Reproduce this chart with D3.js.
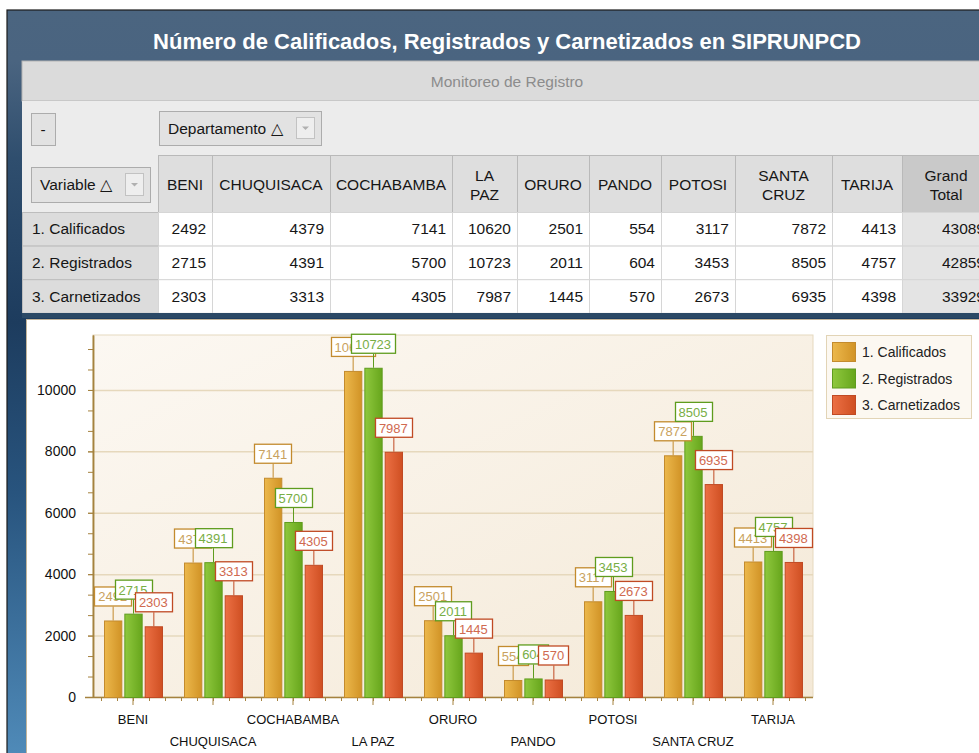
<!DOCTYPE html>
<meta charset="utf-8">
<style>
body{margin:0;background:#fff;}
text{font-family:"Liberation Sans",Arial,sans-serif;}
</style>
<svg id="mysvg" width="979" height="753"></svg>
<script src="https://cdn.jsdelivr.net/npm/d3@7/dist/d3.min.js"></script>
<script>

// data
var departamentos = ["BENI","CHUQUISACA","COCHABAMBA","LA PAZ","ORURO","PANDO","POTOSI","SANTA CRUZ","TARIJA"];
var variables = ["1. Calificados","2. Registrados","3. Carnetizados"];
var calificados  = [2492,4379,7141,10620,2501,554,3117,7872,4413];
var registrados  = [2715,4391,5700,10723,2011,604,3453,8505,4757];
var carnetizados = [2303,3313,4305,7987,1445,570,2673,6935,4398];
var yTicks = [0,2000,4000,6000,8000,10000];
var headerLabels = [["BENI"],["CHUQUISACA"],["COCHABAMBA"],["LA","PAZ"],["ORURO"],["PANDO"],["POTOSI"],["SANTA","CRUZ"],["TARIJA"],["Grand","Total"]];

var values = [calificados, registrados, carnetizados];
var grandTotals = values.map(function(v){ return d3.sum(v); });

// colours per series: light, dark, border, label text
var colors = [
	{a:"#ecb84c", b:"#d19326", line:"#c38b2e", txt:"#c9a25e"},
	{a:"#8fc83e", b:"#67a61c", line:"#5f9c1e", txt:"#78ae45"},
	{a:"#ec7044", b:"#cf4f22", line:"#c04a24", txt:"#d06a50"}
];

var svg = d3.select("#mysvg");
var defs = svg.append("defs");

// ---------- frame ----------
var fg = defs.append("linearGradient").attr("id","frame")
	.attr("gradientUnits","userSpaceOnUse").attr("x1",0).attr("y1",10).attr("x2",0).attr("y2",753);
[[0,"#4b6580"],[0.07,"#4a6480"],[0.2,"#2f4e6e"],[0.42,"#1d3c5e"],[0.65,"#28547e"],[1,"#4f8ab8"]]
	.forEach(function(s){ fg.append("stop").attr("offset",s[0]).attr("stop-color",s[1]); });

svg.append("rect").attr("x",7).attr("y",10).attr("width",990).attr("height",760)
	.attr("fill","url(#frame)").attr("stroke","#1b1b1b").attr("stroke-width",1.2);

svg.append("text").attr("x",507).attr("y",49).attr("text-anchor","middle")
	.attr("fill","#fff").attr("font-weight","bold").attr("font-size",22)
	.text("Número de Calificados, Registrados y Carnetizados en SIPRUNPCD");

// ---------- pivot grid ----------
svg.append("rect").attr("x",22).attr("y",61).attr("width",970).attr("height",40)
	.attr("fill","#dbdbdb").attr("stroke","#b4b4b4");
svg.append("text").attr("x",507).attr("y",87).attr("text-anchor","middle")
	.attr("fill","#8c8c8c").attr("font-size",15.5).text("Monitoreo de Registro");

svg.append("rect").attr("x",22).attr("y",101).attr("width",970).attr("height",212)
	.attr("fill","#ececec");

function button(x, y, w, h, label, drop){
	var g = svg.append("g");
	g.append("rect").attr("x",x+0.5).attr("y",y+0.5).attr("width",w).attr("height",h)
		.attr("fill","#e2e2e2").attr("stroke","#acacac");
	g.append("text").attr("x", drop ? x+9 : x+w/2).attr("y",y+h/2+5.5)
		.attr("text-anchor", drop ? "start" : "middle")
		.attr("fill","#161616").attr("font-size",15.5).text(label);
	if (drop){
		g.append("rect").attr("x",x+w-24.5).attr("y",y+6.5).attr("width",18).attr("height",h-13)
			.attr("fill","#eeeeee").attr("stroke","#c2c2c2");
		var cx = x+w-15.5, cy = y+h/2;
		g.append("path").attr("d","M"+(cx-3.5)+","+(cy-1.5)+"L"+(cx+3.5)+","+(cy-1.5)+"L"+cx+","+(cy+2)+"Z")
			.attr("fill","#b0b0b0");
	}
}
button(31,113,24,32,"-",false);
button(159,111,162,34,"Departamento \u25B3",true);
button(31,167,119,35,"Variable \u25B3",true);

var colEdges = [158,212,330,452,517,589,661,735,832,902,1000];
var rowTop = 212, rowH = 33.6, headTop = 155;

// header cells
var head = svg.append("g");
headerLabels.forEach(function(lbl, i){
	var x0 = colEdges[i], x1 = colEdges[i+1];
	var isTotal = i === headerLabels.length-1;
	head.append("rect").attr("x",x0+0.5).attr("y",headTop+0.5).attr("width",x1-x0).attr("height",rowTop-headTop)
		.attr("fill", isTotal ? "#c9c9c9" : "#dedede").attr("stroke","#b9b9b9");
	var t = head.append("text").attr("text-anchor","middle").attr("font-size",15.5).attr("fill","#161616");
	lbl.forEach(function(s, k){
		var by = lbl.length === 1 ? 190 : 181 + k*19;
		t.append("tspan").attr("x",(x0+x1)/2 - (isTotal ? 5 : 0)).attr("y",by).text(s);
	});
});

// data rows
variables.forEach(function(v, r){
	var y0 = rowTop + r*rowH;
	var g = svg.append("g");
	g.append("rect").attr("x",22.5).attr("y",y0+0.5).attr("width",colEdges[0]-22).attr("height",rowH)
		.attr("fill","#dcdcdc").attr("stroke","#bdbdbd");
	g.append("text").attr("x",32).attr("y",y0+rowH/2+5.5).attr("font-size",15.5).attr("fill","#161616").text(v);
	var cells = values[r].concat([grandTotals[r]]);
	cells.forEach(function(n, i){
		var x0 = colEdges[i], x1 = colEdges[i+1];
		var isTotal = i === cells.length-1;
		g.append("rect").attr("x",x0+0.5).attr("y",y0+0.5).attr("width",x1-x0).attr("height",rowH)
			.attr("fill", isTotal ? "#e4e4e4" : "#ffffff").attr("stroke","#d6d6d6");
		g.append("text").attr("x", isTotal ? 985 : x1-6).attr("y",y0+rowH/2+5.5)
			.attr("text-anchor","end").attr("font-size",15.5).attr("fill","#161616").text(n);
	});
});

svg.append("rect").attr("x",22).attr("y",313).attr("width",970).attr("height",5).attr("fill","#2b4966");

// ---------- chart panel ----------
svg.append("rect").attr("x",26.5).attr("y",319.5).attr("width",970).attr("height",450)
	.attr("fill","#ffffff").attr("stroke","#c4b59a");

var plot = {left:93, right:813, top:335, bottom:697};

var pg = defs.append("linearGradient").attr("id","plotbg")
	.attr("x1",0).attr("y1",0).attr("x2",1).attr("y2",1);
pg.append("stop").attr("offset",0).attr("stop-color","#fcf8f2");
pg.append("stop").attr("offset",1).attr("stop-color","#f4e9d7");

svg.append("rect").attr("x",plot.left).attr("y",plot.top)
	.attr("width",plot.right-plot.left).attr("height",plot.bottom-plot.top)
	.attr("fill","url(#plotbg)").attr("stroke","#e6d9bf");

var x = d3.scaleBand().domain(departamentos).range([plot.left, plot.right]);
var x1 = d3.scaleBand().domain(variables).range([11, 69]).paddingInner(0.15);
var y = d3.scaleLinear().domain([0, 11790]).range([plot.bottom, plot.top]);

// gridlines
svg.append("g").selectAll("line").data(yTicks.slice(1)).enter().append("line")
	.attr("x1",plot.left).attr("x2",plot.right)
	.attr("y1",function(d){ return y(d)+0.5; }).attr("y2",function(d){ return y(d)+0.5; })
	.attr("stroke","#e6d8bc").attr("stroke-width",1.5);

// bar gradients
colors.forEach(function(c, i){
	var g = defs.append("linearGradient").attr("id","bar"+i).attr("x1",0).attr("y1",0).attr("x2",1).attr("y2",0);
	g.append("stop").attr("offset",0).attr("stop-color",c.a);
	g.append("stop").attr("offset",1).attr("stop-color",c.b);
});

var axisColor = "#a5823f";

// y axis
var yAxis = svg.append("g").attr("transform","translate("+plot.left+",0)")
	.call(d3.axisLeft(y).tickValues(yTicks).tickFormat(d3.format("d")).tickSize(5).tickSizeOuter(0).tickPadding(12));
var yMinor = svg.append("g").attr("transform","translate("+plot.left+",0)")
	.call(d3.axisLeft(y).tickValues(d3.range(0, 11790, 2000/3)).tickSize(5).tickSizeOuter(0).tickFormat(""));
[yAxis, yMinor].forEach(function(a){
	a.select(".domain").attr("stroke",axisColor).attr("stroke-width",1.5);
	a.selectAll(".tick line").attr("stroke",axisColor);
});
yAxis.selectAll("text").attr("font-size",14).attr("fill","#111").attr("font-family","Liberation Sans, Arial, sans-serif");

// x axis (major at category centres, minor every fifth of a category)
var xMinorScale = d3.scaleLinear().domain([0, departamentos.length*5]).range([plot.left, plot.right]);
var xMinor = svg.append("g").attr("transform","translate(0,"+plot.bottom+")")
	.call(d3.axisBottom(xMinorScale).tickValues(d3.range(0.5, departamentos.length*5, 1)).tickSize(4).tickSizeOuter(0).tickFormat(""));
xMinor.select(".domain").attr("d","M"+(plot.left-8)+",0.5H"+plot.right).attr("stroke",axisColor).attr("stroke-width",1.5);
xMinor.selectAll(".tick line").attr("stroke",axisColor);

var xAxis = svg.append("g").attr("transform","translate(0,"+plot.bottom+")")
	.call(d3.axisBottom(x).tickSize(8).tickSizeOuter(0).tickPadding(0));
xAxis.select(".domain").remove();
xAxis.selectAll(".tick line").attr("stroke",axisColor);
xAxis.selectAll("text")
	.attr("font-size",13).attr("fill","#111").attr("font-family","Liberation Sans, Arial, sans-serif")
	.attr("dy",null)
	.attr("y",function(d, i){ return i % 2 === 0 ? 27 : 49; });

// bars
var groups = svg.append("g").selectAll("g").data(departamentos).enter().append("g")
	.attr("transform",function(d){ return "translate("+x(d)+",0)"; });

groups.selectAll("rect").data(function(d, j){
		return variables.map(function(v, i){ return {v:v, i:i, val:values[i][j]}; });
	}).enter().append("rect")
	.attr("x",function(d){ return x1(d.v)+0.5; })
	.attr("y",function(d){ return y(d.val)+0.5; })
	.attr("width",x1.bandwidth())
	.attr("height",function(d){ return plot.bottom - y(d.val); })
	.attr("fill",function(d){ return "url(#bar"+d.i+")"; })
	.attr("stroke",function(d){ return colors[d.i].line; });

// value labels
var labels = svg.append("g");
variables.forEach(function(v, i){
	departamentos.forEach(function(dep, j){
		var val = values[i][j];
		var cx = x(dep) + x1(v) + x1.bandwidth()/2;
		var top = y(val);
		var g = labels.append("g");
		var boxBottom = top - 14;
		g.append("line").attr("x1",cx+0.5).attr("x2",cx+0.5).attr("y1",top).attr("y2",boxBottom)
			.attr("stroke",colors[i].line);
		var rect = g.append("rect");
		var t = g.append("text").attr("x",cx).attr("y",boxBottom-5).attr("text-anchor","middle")
			.attr("font-size",13).attr("fill",colors[i].txt).text(val);
		var w = t.node().getComputedTextLength() + 8;
		rect.attr("x",Math.round(cx - w/2)+0.5).attr("y",boxBottom-19.5).attr("width",Math.round(w)).attr("height",19)
			.attr("fill","#fff").attr("stroke",colors[i].line).attr("stroke-width",1.3);
	});
});

// legend
var legend = svg.append("g");
legend.append("rect").attr("x",826.5).attr("y",335.5).attr("width",145).attr("height",83)
	.attr("fill","#fcf8f1").attr("stroke","#e2d4b6");
var li = legend.selectAll("g").data(variables).enter().append("g")
	.attr("transform",function(d, i){ return "translate(832,"+(342+i*26.5)+")"; });
li.append("rect").attr("x",0.5).attr("y",0.5).attr("width",23).attr("height",19)
	.attr("fill",function(d, i){ return "url(#bar"+i+")"; })
	.attr("stroke",function(d, i){ return colors[i].line; });
li.append("text").attr("x",30).attr("y",15).attr("font-size",14).attr("fill","#222").text(function(d){ return d; });

</script>
